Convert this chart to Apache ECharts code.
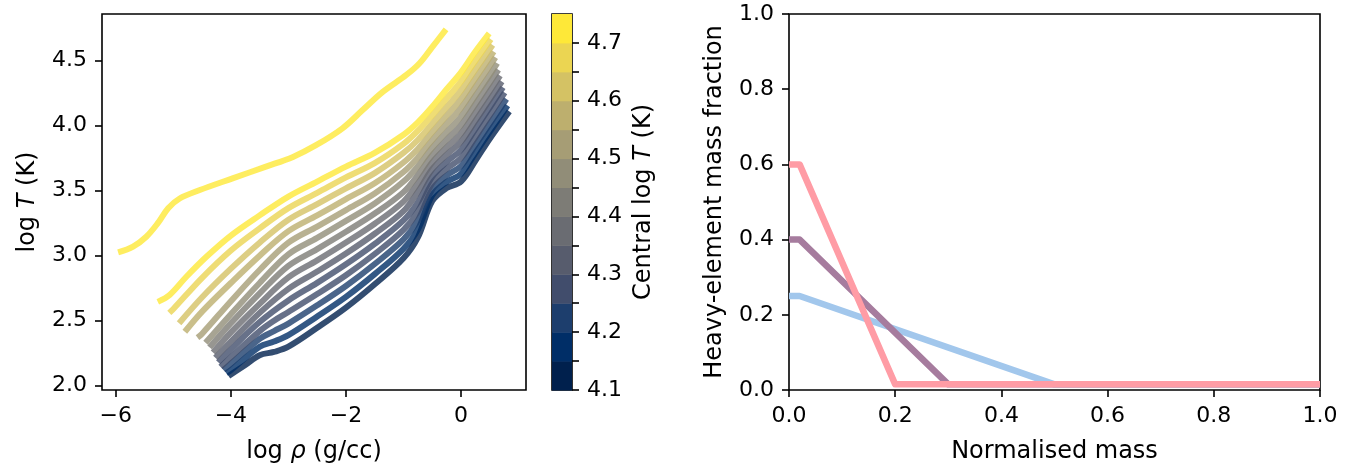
<!DOCTYPE html>
<html>
<head>
<meta charset="utf-8">
<script src="https://cdn.jsdelivr.net/npm/echarts@6/dist/echarts.min.js"></script>
<style>
  html, body { margin: 0; padding: 0; background: #ffffff; }
  #chart { width: 1355px; height: 470px; }
</style>
</head>
<body>
<div id="chart"></div>
<script>
// ---- Left panel: temperature–density profiles, [log rho, log T] ----
const centralLogT = [4.74, 4.71, 4.665, 4.62, 4.57, 4.525, 4.48, 4.43, 4.385, 4.34, 4.295, 4.255, 4.205, 4.155, 4.11];

const prof474 = [[-5.96,3.026],[-5.70,3.07],[-5.47,3.146],[-5.27,3.25],[-5.09,3.365],[-4.89,3.44],[-4.54,3.505],[-3.97,3.595],[-3.39,3.685],[-2.92,3.76],[-2.52,3.85],[-2.06,3.98],[-1.71,4.12],[-1.36,4.26],[-0.95,4.39],[-0.72,4.48],[-0.49,4.61],[-0.26,4.74]];
const prof471 = [[-5.27,2.645],[-5.06,2.70],[-4.77,2.84],[-4.43,2.99],[-4.0,3.155],[-3.5,3.31],[-3.0,3.455],[-2.5,3.57],[-2.0,3.685],[-1.5,3.79],[-1.0,3.93],[-0.75,4.025],[-0.5,4.145],[-0.25,4.28],[0,4.41],[0.25,4.57],[0.49,4.71]];
const prof4665 = [[-5.07,2.56],[-5.0,2.59],[-4.5,2.83],[-4.0,3.04],[-3.5,3.21],[-3.0,3.366],[-2.5,3.483],[-2.0,3.602],[-1.5,3.712],[-1.0,3.86],[-0.75,3.96],[-0.5,4.081],[-0.25,4.211],[0,4.34],[0.25,4.50],[0.52,4.665]];
const prof462 = [[-4.90,2.48],[-4.5,2.68],[-4.0,2.90],[-3.5,3.10],[-3.0,3.277],[-2.5,3.397],[-2.0,3.518],[-1.5,3.635],[-1.0,3.79],[-0.75,3.89],[-0.5,4.015],[-0.25,4.144],[0,4.272],[0.25,4.432],[0.55,4.62]];
const prof457 = [[-4.80,2.415],[-4.5,2.57],[-4.0,2.79],[-3.5,3.00],[-3.0,3.189],[-2.5,3.31],[-2.0,3.435],[-1.5,3.557],[-1.0,3.717],[-0.75,3.821],[-0.5,3.951],[-0.25,4.078],[0,4.204],[0.25,4.364],[0.57,4.57]];
const prof4525 = [[-4.58,2.37],[-4.5,2.40],[-4.0,2.65],[-3.5,2.89],[-3.0,3.10],[-2.5,3.224],[-2.0,3.351],[-1.5,3.479],[-1.0,3.644],[-0.75,3.754],[-0.5,3.889],[-0.25,4.014],[0,4.137],[0.25,4.297],[0.60,4.525]];
const prof448 = [[-4.44,2.33],[-4.0,2.55],[-3.5,2.79],[-3.0,3.011],[-2.5,3.137],[-2.0,3.268],[-1.5,3.402],[-1.0,3.57],[-0.75,3.687],[-0.5,3.83],[-0.25,3.952],[0,4.07],[0.25,4.23],[0.5,4.39],[0.63,4.48]];
const prof443 = [[-4.37,2.295],[-4.0,2.48],[-3.5,2.71],[-3.0,2.922],[-2.5,3.051],[-2.0,3.184],[-1.5,3.324],[-1.0,3.489],[-0.75,3.62],[-0.5,3.773],[-0.25,3.892],[0,4.005],[0.25,4.165],[0.5,4.33],[0.65,4.43]];
const prof4385 = [[-4.31,2.255],[-4.0,2.41],[-3.5,2.63],[-3.0,2.833],[-2.5,2.964],[-2.0,3.101],[-1.5,3.246],[-1.0,3.416],[-0.75,3.555],[-0.5,3.718],[-0.25,3.834],[0,3.94],[0.25,4.10],[0.5,4.265],[0.68,4.385]];
const prof434 = [[-4.27,2.215],[-4.0,2.34],[-3.5,2.56],[-3.0,2.745],[-2.5,2.878],[-2.0,3.017],[-1.5,3.169],[-1.0,3.343],[-0.75,3.49],[-0.5,3.666],[-0.25,3.777],[0,3.877],[0.25,4.037],[0.5,4.20],[0.71,4.34]];
const prof4295 = [[-4.22,2.18],[-4.0,2.28],[-3.5,2.49],[-3.0,2.656],[-2.5,2.791],[-2.0,2.934],[-1.5,3.091],[-1.0,3.271],[-0.75,3.41],[-0.5,3.608],[-0.25,3.722],[0,3.814],[0.25,3.974],[0.5,4.14],[0.73,4.295]];
const prof4255 = [[-4.18,2.145],[-4.0,2.22],[-3.5,2.42],[-3.25,2.50],[-3.0,2.567],[-2.5,2.705],[-2.0,2.85],[-1.5,3.013],[-1.0,3.198],[-0.75,3.34],[-0.5,3.558],[-0.25,3.669],[0,3.751],[0.25,3.911],[0.5,4.08],[0.76,4.255]];
const prof4205 = [[-4.13,2.12],[-4.0,2.17],[-3.5,2.36],[-3.25,2.42],[-3.0,2.478],[-2.5,2.618],[-2.0,2.767],[-1.5,2.936],[-1.0,3.125],[-0.75,3.27],[-0.5,3.51],[-0.25,3.617],[0,3.69],[0.25,3.85],[0.5,4.015],[0.79,4.205]];
const prof4155 = [[-4.08,2.095],[-4.0,2.12],[-3.5,2.30],[-3.25,2.34],[-3.0,2.389],[-2.5,2.532],[-2.0,2.683],[-1.5,2.858],[-1.0,3.053],[-0.75,3.20],[-0.5,3.465],[-0.25,3.568],[0,3.63],[0.25,3.79],[0.5,3.953],[0.81,4.155]];
const prof411 = [[-4.04,2.075],[-3.75,2.16],[-3.5,2.235],[-3.25,2.26],[-3.0,2.30],[-2.5,2.445],[-2.0,2.60],[-1.5,2.78],[-1.0,2.98],[-0.75,3.14],[-0.5,3.42],[-0.25,3.52],[0,3.57],[0.25,3.73],[0.5,3.90],[0.84,4.11]];

const rhoTicks = [-6, -4, -2, 0];
const logTTicks = [2.0, 2.5, 3.0, 3.5, 4.0, 4.5];

// ---- Colour bar: bin edges in central log T and labelled values ----
const cbarEdges = [4.10, 4.15, 4.20, 4.25, 4.30, 4.35, 4.40, 4.45, 4.50, 4.55, 4.60, 4.65, 4.70, 4.75];
const cbarLabels = [4.1, 4.2, 4.3, 4.4, 4.5, 4.6, 4.7];

// ---- Right panel: heavy-element profiles vs normalised mass ----
const massSteep = [0, 0.02, 0.2, 1.0];
const zSteep = [0.6, 0.6, 0.015, 0.015];
const massMid = [0, 0.02, 0.3, 1.0];
const zMid = [0.4, 0.4, 0.015, 0.015];
const massShallow = [0, 0.02, 0.5, 1.0];
const zShallow = [0.25, 0.25, 0.015, 0.015];
const fracTicks = [0, 0.2, 0.4, 0.6, 0.8, 1.0];

// ---- Styling helpers ----
const FONT = 'DejaVu Sans';
const TICK_FS = 22;
const NAME_FS = 24;
const INK = '#000000';
const CIVIDIS_STOPS = ['#00204D', '#00336F', '#39486B', '#575C6D', '#707173', '#8A8779', '#A69D75', '#C4B56C', '#E4CF5B', '#FEE838'];

function hexToRgb(h) {
  return [parseInt(h.slice(1, 3), 16), parseInt(h.slice(3, 5), 16), parseInt(h.slice(5, 7), 16)];
}
function cividis(t) {
  t = Math.max(0, Math.min(1, t));
  const n = CIVIDIS_STOPS.length - 1;
  const p = t * n;
  const i = Math.min(Math.floor(p), n - 1);
  const f = p - i;
  const a = hexToRgb(CIVIDIS_STOPS[i]);
  const b = hexToRgb(CIVIDIS_STOPS[i + 1]);
  const c = a.map((v, k) => Math.round(v + (b[k] - v) * f));
  return 'rgb(' + c.join(',') + ')';
}
const nBins = cbarEdges.length - 1;
function binIndex(v) {
  let k = 0;
  while (k < nBins - 1 && v >= cbarEdges[k + 1] - 1e-9) k++;
  return k;
}
function binColor(v) {
  return cividis(binIndex(v) / (nBins - 1));
}
const fmtMinus = v => String(v).replace('-', '\u2212');

const profiles = [prof474, prof471, prof4665, prof462, prof457, prof4525, prof448, prof443, prof4385, prof434, prof4295, prof4255, prof4205, prof4155, prof411];

const tickLabel = { fontFamily: FONT, fontSize: TICK_FS, color: INK, margin: 15 };
const tickLine = { length: 7, lineStyle: { color: INK, width: 1.6 } };
const noLine = { show: false, onZero: false };
const nameStyle = {
  fontFamily: FONT, fontSize: NAME_FS, color: INK,
  rich: { i: { fontFamily: FONT, fontSize: NAME_FS, color: INK, fontStyle: 'italic' } }
};

const series = [];

// Profiles: coolest first so the hottest sit on top
for (let k = profiles.length - 1; k >= 0; k--) {
  series.push({
    type: 'line',
    xAxisIndex: 0, yAxisIndex: 0,
    data: profiles[k],
    showSymbol: false,
    smooth: 0.35,
    silent: true,
    lineStyle: { color: binColor(centralLogT[k]), width: 6, opacity: 0.8, cap: 'butt', join: 'round' },
    z: 2
  });
}

// Colour bar bands
series.push({
  type: 'custom',
  xAxisIndex: 1, yAxisIndex: 1,
  silent: true,
  data: cbarEdges.slice(0, -1).map((lo, i) => [i, lo, cbarEdges[i + 1]]),
  renderItem: function (params, api) {
    const i = api.value(0);
    const p0 = api.coord([0, api.value(2)]);
    const p1 = api.coord([1, api.value(1)]);
    return {
      type: 'rect',
      shape: { x: p0[0], y: p0[1], width: p1[0] - p0[0], height: p1[1] - p0[1] + 0.5 },
      style: { fill: cividis(i / (nBins - 1)) }
    };
  },
  z: 1
});

// Heavy-element profiles
const zip = (xs, ys) => xs.map((x, i) => [x, ys[i]]);
[[massShallow, zShallow, '#a2c7ec'], [massMid, zMid, '#a67c9e'], [massSteep, zSteep, '#ff9ca5']].forEach(([xs, ys, c]) => {
  series.push({
    type: 'line',
    xAxisIndex: 2, yAxisIndex: 2,
    data: zip(xs, ys),
    showSymbol: false,
    silent: true,
    lineStyle: { color: c, width: 6.5, cap: 'butt', join: 'round' },
    z: 2
  });
});

const frame = { show: true, borderColor: INK, borderWidth: 1.6, backgroundColor: 'transparent' };

const option = {
  animation: false,
  backgroundColor: '#ffffff',
  grid: [
    Object.assign({ left: 102, top: 14, width: 424, height: 376 }, frame),
    Object.assign({ left: 552, top: 14, width: 20, height: 376 }, frame),
    Object.assign({ left: 789, top: 14, width: 531, height: 376 }, frame)
  ],
  xAxis: [
    {
      gridIndex: 0, type: 'value', min: -6.24, max: 1.13,
      splitLine: { show: false }, axisLine: noLine,
      axisTick: Object.assign({ customValues: rhoTicks }, tickLine),
      axisLabel: Object.assign({ customValues: rhoTicks, formatter: fmtMinus }, tickLabel),
      name: 'log {i|\u03c1} (g/cc)', nameLocation: 'middle', nameGap: 50, nameTextStyle: nameStyle
    },
    { gridIndex: 1, type: 'value', min: 0, max: 1, show: false },
    {
      gridIndex: 2, type: 'value', min: 0, max: 1,
      splitLine: { show: false }, axisLine: noLine,
      axisTick: Object.assign({ customValues: fracTicks }, tickLine),
      axisLabel: Object.assign({ customValues: fracTicks, formatter: v => v.toFixed(1) }, tickLabel),
      name: 'Normalised mass', nameLocation: 'middle', nameGap: 50, nameTextStyle: nameStyle
    }
  ],
  yAxis: [
    {
      gridIndex: 0, type: 'value', min: 1.967, max: 4.859,
      splitLine: { show: false }, axisLine: noLine,
      axisTick: Object.assign({ customValues: logTTicks }, tickLine),
      axisLabel: Object.assign({ customValues: logTTicks, formatter: v => v.toFixed(1) }, tickLabel),
      name: 'log {i|T} (K)', nameLocation: 'middle', nameGap: 62, nameTextStyle: nameStyle
    },
    {
      gridIndex: 1, type: 'value', position: 'right', min: 4.1, max: 4.75,
      splitLine: { show: false }, axisLine: noLine,
      axisTick: Object.assign({ customValues: cbarEdges.slice(0, -1) }, tickLine),
      axisLabel: Object.assign({ customValues: cbarLabels, formatter: v => v.toFixed(1) }, tickLabel),
      name: 'Central log {i|T} (K)', nameLocation: 'middle', nameRotate: 90, nameGap: 60, nameTextStyle: nameStyle
    },
    {
      gridIndex: 2, type: 'value', min: 0, max: 1,
      splitLine: { show: false }, axisLine: noLine,
      axisTick: Object.assign({ customValues: fracTicks }, tickLine),
      axisLabel: Object.assign({ customValues: fracTicks, formatter: v => v.toFixed(1) }, tickLabel),
      name: 'Heavy-element mass fraction', nameLocation: 'middle', nameGap: 62, nameTextStyle: nameStyle
    }
  ],
  series: series
};

const chart = echarts.init(document.getElementById('chart'), null, { renderer: 'canvas' });
chart.setOption(option);
</script>
</body>
</html>
